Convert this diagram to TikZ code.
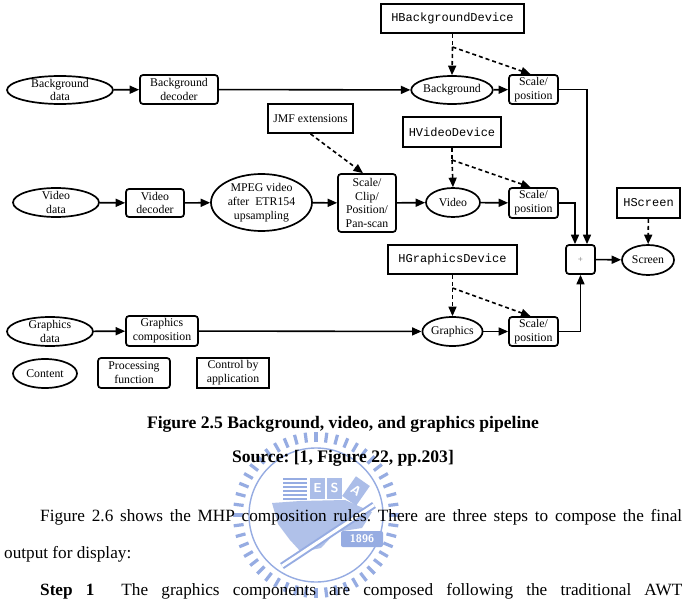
\documentclass[tikz,border=0pt]{standalone}
\usepackage{fontspec}
\setmainfont{Liberation Serif}
\setmonofont{Liberation Mono}
\usepackage{tikz}
\usetikzlibrary{
  arrows.meta,
  calc,
  positioning,
  shapes.geometric
}
\definecolor{wmblue}{RGB}{150,172,226}
\newcommand{\diagfont}{\fontsize{11.8}{13.8}\selectfont}
\newcommand{\bodyfont}{\fontsize{17.2}{20}\selectfont}
\frenchspacing

\tikzset{
  content/.style={ellipse,draw,line width=1.7pt,inner xsep=0pt,inner ysep=-5pt,
    align=center,font=\diagfont},
  procbox/.style={rectangle,rounded corners=3pt,draw,line width=1.7pt,inner sep=1pt,
    align=center,font=\diagfont},
  ctrlbox/.style={rectangle,draw,line width=1.7pt,inner sep=1pt,align=center,font=\diagfont},
  flow/.style={->,line width=1.6pt},
  ctrlline/.style={line width=1.6pt,dash pattern=on 4pt off 3pt},
  ctrlflow/.style={ctrlline,->},
  bodyline/.style={anchor=base west,inner sep=0pt,font=\bodyfont}
}

\begin{document}
\begin{tikzpicture}[x=1pt,y=-1pt,>={Triangle[length=9.5pt,width=8pt]}]
  \useasboundingbox (0,0) rectangle (685,599);
  \fill[white] (0,0) rectangle (685,599);

  % watermark
  \begin{scope}[wmblue]
    \foreach \a in {0,7.5,...,352.5}
      \draw[line width=3.2pt] (316,515) ++(\a:73) -- ++(\a:10);
    \draw[line width=1.4pt] (316,515) circle[radius=67pt];
    \foreach \yy in {479,483,...,499}
      \draw[line width=2pt] (283,\yy) -- (307,\yy);
    \fill[wmblue!75] (272,503) -- (300,501) -- (345,500) -- (372,512) -- (362,528)
      -- (336,532) -- (321,548) -- (301,552) -- (290,540) -- (278,524) -- cycle;
    \node[fill=wmblue!80,text=white,inner sep=0pt,minimum width=15pt,minimum height=21pt,
      font=\sffamily\bfseries\fontsize{13}{13}\selectfont] (wmE) at (317.5,488) {E};
    \node[fill=wmblue!80,text=white,inner sep=0pt,minimum width=15pt,minimum height=21pt,
      font=\sffamily\bfseries\fontsize{13}{13}\selectfont] (wmS) at (334.5,488) {S};
    \node[fill=wmblue!80,text=white,inner sep=0pt,minimum width=17pt,minimum height=24pt,
      rotate=-35,font=\sffamily\bfseries\fontsize{13}{13}\selectfont] (wmA) at (356,491) {A};
    \draw[line width=2pt,double=white,double distance=3pt] (282,566) -- (374,505);
    \node[fill=wmblue,text=white,rounded corners=2pt,inner sep=0pt,minimum width=42pt,
      minimum height=16pt,font=\sffamily\bfseries\fontsize{11}{11}\selectfont]
      (wmyear) at (362,539) {1896};
  \end{scope}

  % background path
  \node[content,minimum width=106pt,minimum height=28pt] (bgdata) at (60,90) {Background\\data};
  \node[procbox,minimum width=78pt,minimum height=29pt] (bgdec) at (179,89.5) {Background\\decoder};
  \node[content,minimum width=70pt,minimum height=28pt] (bg) at (452,90) {Background};
  \node[procbox,minimum width=49pt,minimum height=29pt] (bgscale) at (533.5,89.5) {Scale/\\position};
  \node[ctrlbox,minimum width=143pt,minimum height=29pt,font=\ttfamily\fontsize{12}{12}\selectfont]
    (hbg) at (452.5,18.5) {HBackgroundDevice};
  \coordinate (hbgj) at (452.5,47);

  % video path
  \node[ctrlbox,minimum width=85pt,minimum height=29pt] (jmf) at (310.5,118.5) {JMF extensions};
  \node[content,minimum width=86pt,minimum height=29pt] (viddata) at (56,202.5) {Video\\data};
  \node[procbox,minimum width=58pt,minimum height=28pt] (viddec) at (155,203) {Video\\decoder};
  \node[content,minimum width=101pt,minimum height=57pt] (mpeg) at (261.5,202.5)
    {MPEG video\\after~ ETR154\\upsampling};
  \node[procbox,minimum width=58pt,minimum height=58pt] (clip) at (367,203)
    {Scale/\\Clip/\\Position/\\Pan-scan};
  \node[content,minimum width=54pt,minimum height=29pt] (vid) at (453,202.5) {Video};
  \node[procbox,minimum width=49pt,minimum height=30pt] (vidscale) at (533.5,203) {Scale/\\position};
  \node[ctrlbox,minimum width=98pt,minimum height=30pt,font=\ttfamily\fontsize{12}{12}\selectfont]
    (hvid) at (452,132) {HVideoDevice};
  \coordinate (hvidj) at (452,160);

  % output
  \node[procbox,minimum width=29pt,minimum height=29pt,text=black!55,font=\fontsize{9}{9}\selectfont]
    (plus) at (580.5,259.5) {+};
  \node[content,minimum width=52pt,minimum height=30pt] (scr) at (648,260) {Screen};
  \node[ctrlbox,minimum width=63pt,minimum height=30pt,font=\ttfamily\fontsize{12}{12}\selectfont]
    (hscr) at (648.5,203) {HScreen};

  % graphics path
  \node[content,minimum width=86pt,minimum height=29pt] (gfxdata) at (50,331.5) {Graphics\\data};
  \node[procbox,minimum width=72pt,minimum height=30pt] (gfxcomp) at (162,331) {Graphics\\composition};
  \node[content,minimum width=59pt,minimum height=29pt] (gfx) at (452.5,331.5) {Graphics};
  \node[procbox,minimum width=49pt,minimum height=29pt] (gfxscale) at (533.5,331.5) {Scale/\\position};
  \node[ctrlbox,minimum width=129pt,minimum height=29pt,font=\ttfamily\fontsize{12}{12}\selectfont]
    (hgfx) at (452.5,259.5) {HGraphicsDevice};
  \coordinate (hgfxj) at (452.5,288);

  % legend
  \node[content,minimum width=64pt,minimum height=29pt] (lgcontent) at (45,373.5) {Content};
  \node[procbox,minimum width=72pt,minimum height=30pt] (lgproc) at (134,373) {Processing\\function};
  \node[ctrlbox,minimum width=72pt,minimum height=30pt] (lgctrl) at (233,373) {Control by\\application};

  % data flow
  \draw[flow] (bgdata) -- (bgdec);
  \draw[flow] (bgdec) -- (bg);
  \draw[flow] (bg) -- (bgscale);
  \draw[flow] (bgscale.east) -| ([xshift=6.5pt]plus.north);
  \draw[flow] (viddata) -- (viddec);
  \draw[flow] (viddec) -- (mpeg);
  \draw[flow] (mpeg) -- (clip);
  \draw[flow] (clip) -- (vid);
  \draw[flow] (vid) -- (vidscale);
  \draw[flow] (vidscale.east) -| ([xshift=-5.5pt]plus.north);
  \draw[flow] (gfxdata) -- (gfxcomp);
  \draw[flow] (gfxcomp) -- (gfx);
  \draw[flow] (gfx) -- (gfxscale);
  \draw[flow] (gfxscale.east) -| (plus.south);
  \draw[flow] (plus) -- (scr);

  % control
  \draw[ctrlline] (hbg.south) -- (hbgj);
  \draw[ctrlflow] (hbgj) -- (bg.north);
  \draw[ctrlflow] (hbgj) -- ([xshift=-3pt]bgscale.north);
  \draw[ctrlflow] (jmf.south) -- ([xshift=-4pt]clip.north);
  \draw[ctrlline] (hvid.south) -- (hvidj);
  \draw[ctrlflow] (hvidj) -- (vid.north);
  \draw[ctrlflow] (hvidj) -- ([xshift=-3pt]vidscale.north);
  \draw[ctrlline] (hgfx.south) -- (hgfxj);
  \draw[ctrlflow] (hgfxj) -- (gfx.north);
  \draw[ctrlflow] (hgfxj) -- ([xshift=-3pt]gfxscale.north);
  \draw[ctrlflow] (hscr) -- (scr);

  % caption and text
  \node[anchor=base,inner sep=0pt,font=\fontsize{17.6}{20}\selectfont\bfseries] (cap) at (343,428)
    {Figure 2.5 Background, video, and graphics pipeline};
  \node[anchor=base,inner sep=0pt,font=\fontsize{17.6}{20}\selectfont\bfseries] (src) at (343,462)
    {Source: [1, Figure 22, pp.203]};
  \node[bodyline] (par1) at (40,521)
    {\hbox to 642pt{Figure 2.6 shows the MHP composition rules. There are three steps to compose the final}};
  \node[bodyline] (par2) at (4,558) {output for display:};
  \node[bodyline] (par3) at (40,595)
    {\hbox to 642pt{\textbf{Step 1}\hspace{27pt}The graphics components are composed following the traditional AWT}};
\end{tikzpicture}
\end{document}
